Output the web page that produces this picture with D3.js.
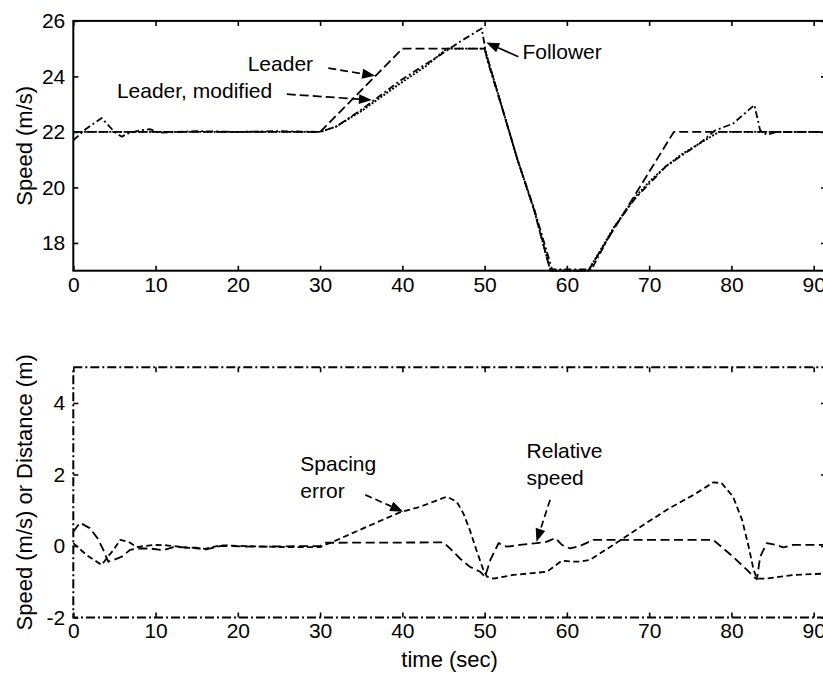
<!DOCTYPE html>
<html><head><meta charset="utf-8">
<script src="https://cdn.jsdelivr.net/npm/d3@7"></script>
<style>html,body{margin:0;padding:0;background:#fff;overflow:hidden}</style>
</head><body><svg id="c" width="823" height="677"></svg>
<script>
// ---------- data ----------
const xTicks = [0, 10, 20, 30, 40, 50, 60, 70, 80, 90];
const speedTicks = [18, 20, 22, 24, 26];
const errTicks = [-2, 0, 2, 4];

const leader = [[0,22],[30,22],[40,25],[50,25],[52,23.0],[54,21.0],[56,19.2],[58,17],[62.6,17],[73,22],[91.5,22]];
const leaderModified = [[0,22],[30,22],[32,22.2],[35,22.75],[40,23.8],[43,24.4],[45.4,25],[50,25],[52,23.0],[54,21.0],[56,19.2],[58,17],[62.6,17],[65.7,18.55],[68.3,19.65],[70,20.2],[72,20.75],[74,21.2],[76.2,21.6],[78.5,22],[91.5,22]];
const follower = [[0,21.7],[1.5,22.1],[3.45,22.5],[5,22.0],[5.9,21.83],[6.7,21.95],[8,22.05],[9.3,22.1],[10.5,21.97],[15,22.03],[20,22],[25,22.03],[30,22],[32,22.2],[35,22.8],[40,23.9],[45,24.85],[47,25.25],[49.65,25.73],[50.3,24.6],[52,23.0],[54,21.0],[56,19.25],[58.2,17.05],[63,17.05],[65.7,18.55],[68.3,19.6],[72,20.75],[76.2,21.6],[78,22.05],[80.2,22.3],[82.8,22.97],[83.5,22.05],[84.3,21.9],[85.5,22.0],[91.5,22]];

const spacingError = [[0,0.08],[1.6,-0.25],[3.45,-0.53],[4.2,-0.3],[4.9,-0.11],[5.7,0.17],[6.7,0.12],[7.7,-0.03],[9.7,0.03],[11.3,0.02],[14,-0.05],[16,-0.08],[18,0.02],[22,-0.01],[26,-0.03],[30,-0.03],[31.6,0.12],[35.7,0.54],[39.7,0.94],[42.2,1.1],[43.8,1.24],[45.4,1.38],[46.6,1.24],[47.4,0.92],[48.2,0.45],[49,-0.11],[49.85,-0.67],[50.3,-0.86],[51.1,-0.91],[53.5,-0.81],[57.6,-0.72],[58.4,-0.58],[59.4,-0.41],[60.8,-0.44],[61.6,-0.44],[62.8,-0.39],[65.3,-0.02],[66.9,0.22],[69.3,0.59],[72.5,1.06],[75.4,1.43],[77,1.66],[77.8,1.78],[78.8,1.76],[80.2,1.38],[81.3,0.73],[82.1,-0.02],[82.7,-0.67],[83.1,-0.91],[84.3,-0.91],[87.5,-0.81],[91.5,-0.77]];
const relativeSpeed = [[0,0.4],[0.8,0.65],[2,0.5],[3,0.2],[3.65,-0.11],[4.25,-0.44],[4.9,-0.39],[5.9,-0.3],[6.9,-0.11],[7.7,-0.07],[9.3,-0.07],[10.9,-0.12],[12.2,-0.03],[15,-0.05],[16,-0.1],[18,0.0],[22,-0.02],[30,0.0],[30.6,0.09],[45,0.1],[45.8,-0.07],[47,-0.35],[48.2,-0.58],[49.45,-0.72],[50.05,-0.86],[50.7,-0.39],[51.7,0.08],[52.7,-0.02],[54.3,0.03],[56.3,0.08],[57.6,0.12],[58.6,0.22],[59.4,0.03],[60.4,-0.07],[61.6,0.0],[63.2,0.17],[77.8,0.17],[80.2,-0.3],[81.9,-0.67],[82.7,-0.86],[83.1,-0.93],[83.5,-0.3],[84.3,0.08],[85.5,0.03],[86.3,-0.04],[87.5,0.03],[91.5,0.03]];

// annotations (data units): text lines, arrow tail -> tip
const topNotes = [
  {lines:["Leader"], t:21.2, v:24.2, tail:[31.0,24.3], tip:[36.7,24.02], dash:"8,4"},
  {lines:["Leader, modified"], t:5.3, v:23.23, tail:[25.95,23.36], tip:[36.3,23.15], dash:"9,4"},
  {lines:["Follower"], t:54.6, v:24.63, tail:[54.1,24.71], tip:[50.2,25.22], dash:null}
];
const bottomNotes = [
  {lines:["Spacing","error"], t:27.6, v:2.1, tail:[35.5,1.43], tip:[40.1,0.96], dash:"7,4"},
  {lines:["Relative","speed"], t:55.1, v:2.47, tail:[57.96,1.29], tip:[56.3,0.12], dash:"7,4"}
];

// ---------- layout ----------
const FONT = "'Liberation Sans', Arial, Helvetica, sans-serif";
const L = 73.3, R = 826;
const svg = d3.select("#c").style("font-family", FONT);
const x = d3.scaleLinear().domain([0, 91.5]).range([L, R]);
const y1 = d3.scaleLinear().domain([17, 26]).range([270.7, 20.9]);
const y2 = d3.scaleLinear().domain([-2, 5]).range([617.5, 367.2]);
const fmt = d => String(d);

function drawAxes(y, ticks, frameDash, ylabel, ylabelY) {
  const top = y.range()[1], bot = y.range()[0];
  const g = svg.append("g");
  g.append("rect").attr("x", L).attr("y", top).attr("width", R - L).attr("height", bot - top)
    .attr("fill", "none").attr("stroke", "#000").attr("stroke-width", 2)
    .attr("stroke-dasharray", frameDash);
  const style = sel => {
    sel.select(".domain").remove();
    sel.selectAll(".tick line").attr("stroke", "#000").attr("stroke-width", 1.6);
    sel.selectAll(".tick text").attr("font-size", 21).attr("font-family", FONT).attr("fill", "#000");
  };
  g.append("g").attr("transform", `translate(0,${bot})`)
    .call(d3.axisBottom(x).tickValues(xTicks).tickFormat(fmt).tickSizeInner(-5).tickSizeOuter(0).tickPadding(6)).call(style);
  g.append("g").attr("transform", `translate(0,${top})`)
    .call(d3.axisTop(x).tickValues(xTicks).tickSizeInner(-5).tickSizeOuter(0).tickFormat("")).call(style);
  g.append("g").attr("transform", `translate(${L},0)`)
    .call(d3.axisLeft(y).tickValues(ticks).tickFormat(fmt).tickSizeInner(-5).tickSizeOuter(0).tickPadding(8)).call(style);
  g.append("g").attr("transform", `translate(${R},0)`)
    .call(d3.axisRight(y).tickValues(ticks).tickSizeInner(-5).tickSizeOuter(0).tickFormat("")).call(style);
  g.append("text").attr("transform", `translate(32,${ylabelY}) rotate(-90)`)
    .attr("text-anchor", "middle").attr("font-size", 22).attr("fill", "#000").text(ylabel);
}

drawAxes(y1, speedTicks, null, "Speed (m/s)", (y1.range()[0] + y1.range()[1]) / 2);
drawAxes(y2, errTicks, "9,3,2,3", "Speed (m/s) or Distance (m)", (y2.range()[0] + y2.range()[1]) / 2);

svg.append("text").attr("x", (L + R) / 2).attr("y", 667).attr("text-anchor", "middle")
  .attr("font-size", 22).attr("fill", "#000").text("time (sec)");

function drawLine(data, y, dash, w) {
  svg.append("path").datum(data)
    .attr("d", d3.line().x(d => x(d[0])).y(d => y(d[1])))
    .attr("fill", "none").attr("stroke", "#000").attr("stroke-width", w || 1.8)
    .attr("stroke-linejoin", "round")
    .attr("stroke-dasharray", dash);
}

drawLine(leader, y1, "9,4");
drawLine(leaderModified, y1, "2,1.6", 1.9);
drawLine(follower, y1, "7,3,2,3");

drawLine(spacingError, y2, "6,3.5");
drawLine(relativeSpeed, y2, "9,4.5");

function drawNotes(notes, y) {
  notes.forEach(n => {
    const t = svg.append("text").attr("x", x(n.t)).attr("y", y(n.v))
      .attr("font-size", 21).attr("fill", "#000");
    n.lines.forEach((s, i) => t.append("tspan").attr("x", x(n.t)).attr("dy", i ? 27 : 0).text(s));
    const x0 = x(n.tail[0]), yy0 = y(n.tail[1]), x1 = x(n.tip[0]), yy1 = y(n.tip[1]);
    const ang = Math.atan2(yy1 - yy0, x1 - x0);
    const hl = 13, hw = 5;
    const bx = x1 - hl * Math.cos(ang), by = yy1 - hl * Math.sin(ang);
    svg.append("line").attr("x1", x0).attr("y1", yy0).attr("x2", bx).attr("y2", by)
      .attr("stroke", "#000").attr("stroke-width", 1.7).attr("stroke-dasharray", n.dash);
    const px = -Math.sin(ang), py = Math.cos(ang);
    svg.append("path")
      .attr("d", `M${x1},${yy1}L${bx + hw * px},${by + hw * py}L${bx - hw * px},${by - hw * py}Z`)
      .attr("fill", "#000");
  });
}
drawNotes(topNotes, y1);
drawNotes(bottomNotes, y2);
</script></body></html>
